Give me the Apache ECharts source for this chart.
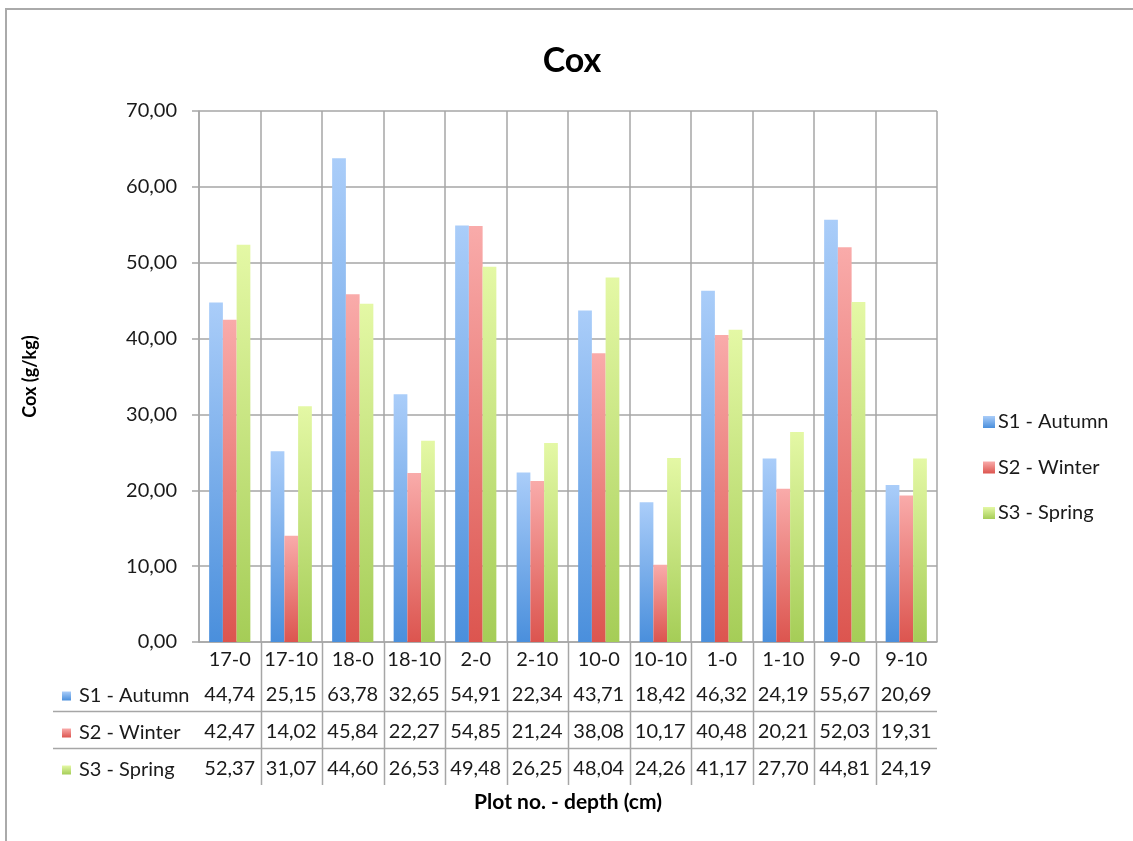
<!DOCTYPE html>
<html>
<head>
<meta charset="utf-8">
<script src="https://cdn.jsdelivr.net/npm/echarts@6/dist/echarts.min.js"></script>
<style>
  html, body { margin: 0; padding: 0; background: #fff; }
  #chart { width: 1133px; height: 841px; }
</style>
</head>
<body>
<div id="chart"></div>
<script>
// Plot / depth combinations along the x axis
const categories = ['17-0', '17-10', '18-0', '18-10', '2-0', '2-10', '10-0', '10-10', '1-0', '1-10', '9-0', '9-10'];

// Cox (g/kg) per sampling season
const autumn = [44.74, 25.15, 63.78, 32.65, 54.91, 22.34, 43.71, 18.42, 46.32, 24.19, 55.67, 20.69];
const winter = [42.47, 14.02, 45.84, 22.27, 54.85, 21.24, 38.08, 10.17, 40.48, 20.21, 52.03, 19.31];
const spring = [52.37, 31.07, 44.60, 26.53, 49.48, 26.25, 48.04, 24.26, 41.17, 27.70, 44.81, 24.19];

const seriesNames = ['S1 - Autumn', 'S2 - Winter', 'S3 - Spring'];
const seriesData = [autumn, winter, spring];

// Value axis range
const yMin = 0;
const yMax = 70;
const yStep = 10;

const FONT = 'Lato, "Open Sans", sans-serif';
const TEXT = '#1a1a1a';
const GRID_LINE = '#a6a6a6';
const FS = 20;

// light top -> saturated bottom, per bar
const gradients = [
  ['#aacdf9', '#4a8fdc'],
  ['#f9abaa', '#dc554f'],
  ['#e4f8a5', '#a5cd57']
];

const fmt = v => v.toFixed(2).replace('.', ',');

function grad(c) {
  return new echarts.graphic.LinearGradient(0, 0, 0, 1, [
    { offset: 0, color: c[0] },
    { offset: 1, color: c[1] }
  ]);
}

const chart = echarts.init(document.getElementById('chart'), null, { renderer: 'canvas' });

// Data-table rows under the axis: one extra category axis per series
const ROW_OFFSET0 = 35;
const ROW_STEP = 37;
const tableAxes = seriesData.map((arr, k) => ({
  type: 'category',
  gridIndex: 0,
  data: categories,
  position: 'bottom',
  offset: ROW_OFFSET0 + ROW_STEP * k,
  axisLine: { show: false },
  axisTick: { show: false },
  splitLine: { show: false },
  axisLabel: {
    interval: 0,
    margin: 8,
    fontFamily: FONT,
    fontSize: FS,
    color: TEXT,
    formatter: (v, i) => fmt(arr[i])
  }
}));

const option = {
  backgroundColor: '#fff',
  animation: false,
  title: {
    text: 'Cox',
    left: 567,
    textAlign: 'center',
    top: 39,
    textStyle: { fontFamily: FONT, fontSize: 34, fontWeight: 'bold', color: '#000' }
  },
  grid: { left: 199, right: 196, top: 111, bottom: 199, containLabel: false },
  legend: [
    {
      data: seriesNames,
      orient: 'vertical',
      left: 978,
      top: 407,
      icon: 'rect',
      itemWidth: 12,
      itemHeight: 12,
      itemGap: 25.5,
      textStyle: { fontFamily: FONT, fontSize: FS, color: TEXT, lineHeight: 20, padding: [0, 0, 0, -2] }
    },
    {
      data: seriesNames,
      orient: 'vertical',
      left: 57,
      top: 681,
      icon: 'rect',
      itemWidth: 9,
      itemHeight: 9,
      itemGap: 17,
      textStyle: { fontFamily: FONT, fontSize: FS, color: TEXT, lineHeight: 20, padding: [0, 0, 0, 3] }
    }
  ],
  xAxis: [
    {
      type: 'category',
      data: categories,
      position: 'bottom',
      name: 'Plot no. - depth (cm)',
      nameLocation: 'middle',
      nameGap: 150,
      nameTextStyle: { fontFamily: FONT, fontSize: 21, fontWeight: 'bold', color: '#000' },
      axisLine: { show: true, lineStyle: { color: GRID_LINE, width: 1.5 } },
      axisTick: { show: false },
      splitLine: { show: true, interval: 0, lineStyle: { color: GRID_LINE, width: 1.5 } },
      axisLabel: { interval: 0, margin: 8, fontFamily: FONT, fontSize: FS, color: TEXT }
    },
    ...tableAxes
  ],
  yAxis: {
    type: 'value',
    min: yMin,
    max: yMax,
    interval: yStep,
    name: 'Cox (g/kg)',
    nameLocation: 'middle',
    nameGap: 160,
    nameRotate: 90,
    nameTextStyle: { fontFamily: FONT, fontSize: 18, fontWeight: 'bold', color: '#000' },
    axisLine: { show: true, lineStyle: { color: GRID_LINE, width: 1.5 } },
    axisTick: { show: true, length: 7, lineStyle: { color: GRID_LINE, width: 1.5 } },
    splitLine: { show: true, lineStyle: { color: GRID_LINE, width: 1.5 } },
    axisLabel: { margin: 22, fontFamily: FONT, fontSize: FS, color: TEXT, formatter: v => fmt(v) }
  },
  series: seriesData.map((arr, k) => ({
    name: seriesNames[k],
    type: 'bar',
    xAxisIndex: 0,
    data: arr,
    barGap: '0%',
    barCategoryGap: '33%',
    itemStyle: {
      color: grad(gradients[k]),
      shadowColor: 'rgba(0,0,0,0.22)',
      shadowBlur: 3,
      shadowOffsetX: 1.5,
      shadowOffsetY: 0
    }
  }))
};

chart.setOption(option);

// Table borders: vertical dividers at category boundaries, horizontal row rules
function drawTable() {
  const centers = categories.map(c => chart.convertToPixel({ xAxisIndex: 0 }, c));
  const band = centers[1] - centers[0];
  const y0 = chart.convertToPixel({ yAxisIndex: 0 }, 0);
  const right = centers[centers.length - 1] + band / 2;
  const els = [];
  for (let i = 0; i < centers.length - 1; i++) {
    const x = Math.round(centers[i] + band / 2) + 0.5;
    els.push({
      type: 'line', silent: true,
      shape: { x1: x, y1: y0, x2: x, y2: y0 + 143 },
      style: { stroke: GRID_LINE, lineWidth: 1.5 }
    });
  }
  [69, 106].forEach(dy => {
    const y = Math.round(y0 + dy) + 0.5;
    els.push({
      type: 'line', silent: true,
      shape: { x1: 53, y1: y, x2: right, y2: y },
      style: { stroke: GRID_LINE, lineWidth: 1.5 }
    });
  });
  // outer chart frame
  els.push({
    type: 'rect', silent: true,
    shape: { x: 6, y: 9, width: 1200, height: 900 },
    style: { fill: 'none', stroke: '#aaaaaa', lineWidth: 2 }
  });
  chart.setOption({ graphic: els });
}
drawTable();
</script>
</body>
</html>
